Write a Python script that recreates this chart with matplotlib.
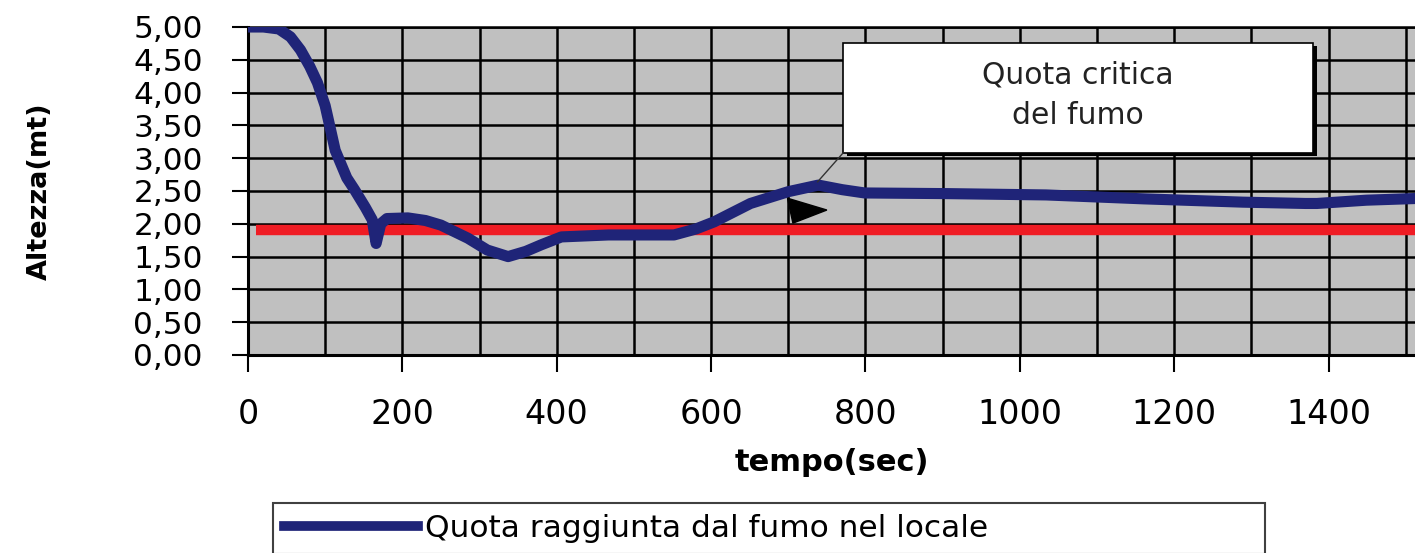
import matplotlib
matplotlib.use("Agg")
import matplotlib.pyplot as plt
from matplotlib.patches import Rectangle, Polygon
from matplotlib.lines import Line2D

plt.rcParams["font.family"] = ["DejaVu Sans"]

# smoke height (time in s, height in m)
tempo = [0, 20, 40, 55, 68, 80, 90, 100, 113, 128, 138, 152, 161, 166, 172,
         180, 207, 230, 250, 285, 310, 337, 360, 380, 406, 467, 552, 580,
         604, 651, 700, 739, 770, 799, 907, 1034, 1161, 1289, 1370, 1385,
         1449, 1524]
quota = [5.00, 5.00, 4.97, 4.85, 4.65, 4.40, 4.15, 3.80, 3.12, 2.70, 2.52,
         2.25, 2.06, 1.70, 2.00, 2.08, 2.09, 2.05, 1.98, 1.78, 1.60, 1.50,
         1.58, 1.68, 1.80, 1.83, 1.83, 1.92, 2.03, 2.31, 2.49, 2.59, 2.52,
         2.47, 2.46, 2.44, 2.38, 2.33, 2.31, 2.31, 2.36, 2.39]

# critical smoke height line
tempo_critico = [10, 1530]
quota_critica = [1.9, 1.9]

x_ticks = [0, 200, 400, 600, 800, 1000, 1200, 1400]
y_ticks = [0.0, 0.5, 1.0, 1.5, 2.0, 2.5, 3.0, 3.5, 4.0, 4.5, 5.0]
y_labels = [f"{v:.2f}".replace(".", ",") for v in y_ticks]

BLUE = "#1f2478"
RED = "#ef1c24"

fig = plt.figure(figsize=(14.15, 5.53), dpi=100)
ax = fig.add_axes([248 / 1415, 1 - 355 / 553, 1167 / 1415, 328 / 553])
ax.set_facecolor("#c0c0c0")

ax.plot(tempo_critico, quota_critica, color=RED, lw=7.5, zorder=3,
        solid_capstyle="butt")
ax.plot(tempo, quota, color=BLUE, lw=8, zorder=4,
        solid_joinstyle="round", solid_capstyle="butt")

ax.set_xlim(0, 1512)
ax.set_ylim(0, 5)
ax.set_xticks(x_ticks)
ax.set_xticks(range(100, 1600, 100), minor=True)
ax.set_yticks(y_ticks)
ax.set_yticklabels(y_labels)
ax.grid(True, which="both", color="black", lw=1.8, zorder=1)
ax.set_axisbelow(True)

ax.tick_params(axis="y", direction="out", length=11.5, width=1.5,
               pad=21, labelsize=22.5)
ax.tick_params(axis="x", which="major", direction="out", length=12,
               width=1.5, pad=19, labelsize=24)
ax.tick_params(axis="x", which="minor", length=0)

ax.spines["right"].set_visible(False)
ax.spines["top"].set_linewidth(1.8)
ax.spines["left"].set_linewidth(2.2)
ax.spines["bottom"].set_linewidth(2.2)

ax.set_xlabel("tempo(sec)", fontsize=22, fontweight="bold", va="top")
ax.xaxis.set_label_coords(0.5, (355 - 448) / 328)
ax.set_ylabel("Altezza(mt)", fontsize=19.5, fontweight="bold", va="center")
ax.yaxis.set_label_coords((40 - 248) / 1167, 0.5)

# callout box
px = 1 / 0.7718  # seconds per pixel
py = 5 / 328     # metres per pixel
bx0, bx1 = 771, 1380
by0, by1 = 3.08, 4.76
ax.add_patch(Rectangle((bx0 + 4 * px, by0 - 3 * py), bx1 - bx0, by1 - by0,
                       facecolor="black", edgecolor="none", zorder=5))
ax.add_patch(Rectangle((bx0, by0), bx1 - bx0, by1 - by0,
                       facecolor="white", edgecolor="black", lw=1.2,
                       zorder=6))
ax.text((bx0 + bx1) / 2, (by0 + by1) / 2 + 0.04,
        "Quota critica\ndel fumo", ha="center", va="center",
        fontsize=21.5, color="#222222", linespacing=1.5, zorder=7)
ax.plot([bx0, 738], [by0, 2.64], color="#333333", lw=1.0, zorder=6)
ax.add_patch(Polygon([(699, 2.39), (750, 2.21), (706, 2.01)],
                     closed=True, facecolor="black", edgecolor="black",
                     zorder=6))

handle = Line2D([], [], color=BLUE, lw=7)
leg = ax.legend([handle], ["Quota raggiunta dal fumo nel locale"],
                loc="upper left", mode="expand",
                bbox_to_anchor=(273 / 1415, 1 - 503 / 553, 992 / 1415, 0),
                bbox_transform=fig.transFigure, borderaxespad=0,
                fontsize=22.5, handlelength=4.3, handletextpad=0.2,
                borderpad=0.35, fancybox=False, frameon=True)
leg.get_frame().set_edgecolor("#404040")
leg.get_frame().set_linewidth(1.5)
leg.get_frame().set_alpha(1)

fig.savefig("out.png", dpi=100, facecolor="white")
